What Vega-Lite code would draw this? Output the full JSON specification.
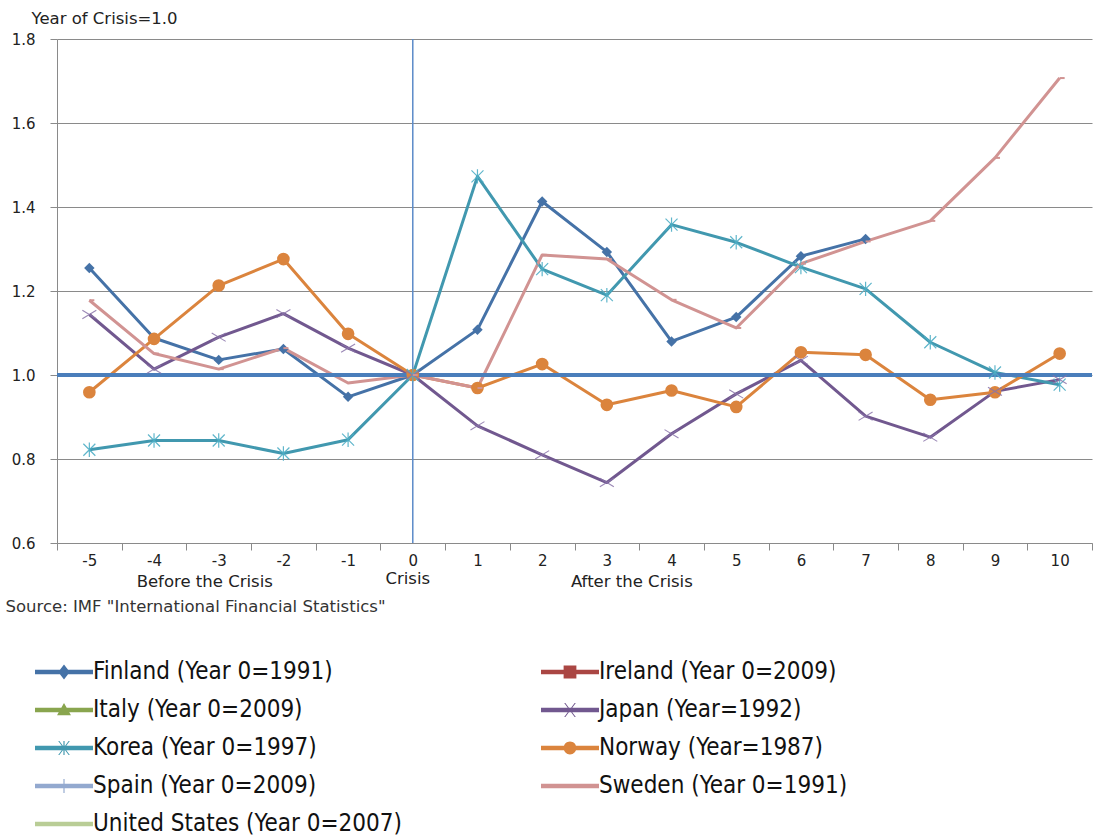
{
  "$schema": "https://vega.github.io/schema/vega-lite/v6.json",
  "width": 1035,
  "height": 504,
  "autosize": {"type": "none"},
  "padding": {"left": 57, "top": 39, "right": 1, "bottom": 295},
  "background": "white",
  "config": {"view": {"stroke": null}, "font": "DejaVu Sans"},
  "datasets": {
    "series": [
      {"c": "Finland (Year 0=1991)", "t": -5, "v": 1.255},
      {"c": "Finland (Year 0=1991)", "t": -4, "v": 1.088},
      {"c": "Finland (Year 0=1991)", "t": -3, "v": 1.036},
      {"c": "Finland (Year 0=1991)", "t": -2, "v": 1.062},
      {"c": "Finland (Year 0=1991)", "t": -1, "v": 0.948},
      {"c": "Finland (Year 0=1991)", "t": 0, "v": 1.0},
      {"c": "Finland (Year 0=1991)", "t": 1, "v": 1.108},
      {"c": "Finland (Year 0=1991)", "t": 2, "v": 1.413},
      {"c": "Finland (Year 0=1991)", "t": 3, "v": 1.293},
      {"c": "Finland (Year 0=1991)", "t": 4, "v": 1.08},
      {"c": "Finland (Year 0=1991)", "t": 5, "v": 1.138},
      {"c": "Finland (Year 0=1991)", "t": 6, "v": 1.283},
      {"c": "Finland (Year 0=1991)", "t": 7, "v": 1.324},
      {"c": "Japan (Year=1992)", "t": -5, "v": 1.144},
      {"c": "Japan (Year=1992)", "t": -4, "v": 1.014},
      {"c": "Japan (Year=1992)", "t": -3, "v": 1.09},
      {"c": "Japan (Year=1992)", "t": -2, "v": 1.146},
      {"c": "Japan (Year=1992)", "t": -1, "v": 1.064},
      {"c": "Japan (Year=1992)", "t": 0, "v": 1.0},
      {"c": "Japan (Year=1992)", "t": 1, "v": 0.879},
      {"c": "Japan (Year=1992)", "t": 2, "v": 0.81},
      {"c": "Japan (Year=1992)", "t": 3, "v": 0.744},
      {"c": "Japan (Year=1992)", "t": 4, "v": 0.86},
      {"c": "Japan (Year=1992)", "t": 5, "v": 0.955},
      {"c": "Japan (Year=1992)", "t": 6, "v": 1.035},
      {"c": "Japan (Year=1992)", "t": 7, "v": 0.902},
      {"c": "Japan (Year=1992)", "t": 8, "v": 0.852},
      {"c": "Japan (Year=1992)", "t": 9, "v": 0.961},
      {"c": "Japan (Year=1992)", "t": 10, "v": 0.989},
      {"c": "Korea (Year 0=1997)", "t": -5, "v": 0.822},
      {"c": "Korea (Year 0=1997)", "t": -4, "v": 0.844},
      {"c": "Korea (Year 0=1997)", "t": -3, "v": 0.844},
      {"c": "Korea (Year 0=1997)", "t": -2, "v": 0.813},
      {"c": "Korea (Year 0=1997)", "t": -1, "v": 0.846},
      {"c": "Korea (Year 0=1997)", "t": 0, "v": 1.0},
      {"c": "Korea (Year 0=1997)", "t": 1, "v": 1.473},
      {"c": "Korea (Year 0=1997)", "t": 2, "v": 1.252},
      {"c": "Korea (Year 0=1997)", "t": 3, "v": 1.19},
      {"c": "Korea (Year 0=1997)", "t": 4, "v": 1.358},
      {"c": "Korea (Year 0=1997)", "t": 5, "v": 1.316},
      {"c": "Korea (Year 0=1997)", "t": 6, "v": 1.257},
      {"c": "Korea (Year 0=1997)", "t": 7, "v": 1.205},
      {"c": "Korea (Year 0=1997)", "t": 8, "v": 1.078},
      {"c": "Korea (Year 0=1997)", "t": 9, "v": 1.006},
      {"c": "Korea (Year 0=1997)", "t": 10, "v": 0.977},
      {"c": "Norway (Year=1987)", "t": -5, "v": 0.959},
      {"c": "Norway (Year=1987)", "t": -4, "v": 1.086},
      {"c": "Norway (Year=1987)", "t": -3, "v": 1.213},
      {"c": "Norway (Year=1987)", "t": -2, "v": 1.276},
      {"c": "Norway (Year=1987)", "t": -1, "v": 1.098},
      {"c": "Norway (Year=1987)", "t": 0, "v": 1.0},
      {"c": "Norway (Year=1987)", "t": 1, "v": 0.969},
      {"c": "Norway (Year=1987)", "t": 2, "v": 1.026},
      {"c": "Norway (Year=1987)", "t": 3, "v": 0.929},
      {"c": "Norway (Year=1987)", "t": 4, "v": 0.963},
      {"c": "Norway (Year=1987)", "t": 5, "v": 0.924},
      {"c": "Norway (Year=1987)", "t": 6, "v": 1.054},
      {"c": "Norway (Year=1987)", "t": 7, "v": 1.048},
      {"c": "Norway (Year=1987)", "t": 8, "v": 0.941},
      {"c": "Norway (Year=1987)", "t": 9, "v": 0.959},
      {"c": "Norway (Year=1987)", "t": 10, "v": 1.051},
      {"c": "Sweden (Year 0=1991)", "t": -5, "v": 1.178},
      {"c": "Sweden (Year 0=1991)", "t": -4, "v": 1.051},
      {"c": "Sweden (Year 0=1991)", "t": -3, "v": 1.014},
      {"c": "Sweden (Year 0=1991)", "t": -2, "v": 1.064},
      {"c": "Sweden (Year 0=1991)", "t": -1, "v": 0.981},
      {"c": "Sweden (Year 0=1991)", "t": 0, "v": 1.0},
      {"c": "Sweden (Year 0=1991)", "t": 1, "v": 0.969},
      {"c": "Sweden (Year 0=1991)", "t": 2, "v": 1.286},
      {"c": "Sweden (Year 0=1991)", "t": 3, "v": 1.276},
      {"c": "Sweden (Year 0=1991)", "t": 4, "v": 1.179},
      {"c": "Sweden (Year 0=1991)", "t": 5, "v": 1.112},
      {"c": "Sweden (Year 0=1991)", "t": 6, "v": 1.265},
      {"c": "Sweden (Year 0=1991)", "t": 7, "v": 1.318},
      {"c": "Sweden (Year 0=1991)", "t": 8, "v": 1.367},
      {"c": "Sweden (Year 0=1991)", "t": 9, "v": 1.517},
      {"c": "Sweden (Year 0=1991)", "t": 10, "v": 1.707}
    ],
    "one": [{}]
  },
  "data": {"name": "series"},
  "layer": [
    {
      "mark": {"type": "line", "strokeWidth": 3, "strokeJoin": "round"},
      "encoding": {
        "x": {
          "field": "t", "type": "ordinal", "bandPosition": 0.5,
          "scale": {"type": "band", "domain": [-5, -4, -3, -2, -1, 0, 1, 2, 3, 4, 5, 6, 7, 8, 9, 10], "paddingInner": 0, "paddingOuter": 0},
          "axis": {
            "tickBand": "extent", "labelAngle": 0, "tickSize": 7, "labelPadding": 3,
            "domainColor": "#8a8a8a", "tickColor": "#8a8a8a", "grid": false,
            "labelFont": "DejaVu Sans", "labelFontSize": 15, "labelColor": "#222",
            "title": "Source: IMF \"International Financial Statistics\"",
            "titleX": -52, "titleY": 63, "titleAlign": "left", "titleBaseline": "middle",
            "titleFont": "DejaVu Sans", "titleFontWeight": "normal", "titleFontSize": 16.5, "titleColor": "#333"
          }
        },
        "y": {
          "field": "v", "type": "quantitative",
          "scale": {"domain": [0.6, 1.8], "zero": false, "nice": false},
          "axis": {
            "values": [0.6, 0.8, 1.0, 1.2, 1.4, 1.6, 1.8], "format": ".1f",
            "grid": true, "gridColor": "#8a8a8a", "gridWidth": 1,
            "domainColor": "#8a8a8a", "tickColor": "#8a8a8a", "tickSize": 7, "labelPadding": 15,
            "labelFont": "DejaVu Sans", "labelFontSize": 15, "labelColor": "#222",
            "title": "Year of Crisis=1.0", "titleAngle": 0, "titleX": -26, "titleY": -21,
            "titleAlign": "left", "titleBaseline": "middle",
            "titleFont": "DejaVu Sans", "titleFontWeight": "normal", "titleFontSize": 16.5, "titleColor": "#222"
          }
        },
        "color": {
          "field": "c", "type": "nominal",
          "scale": {
            "domain": ["Finland (Year 0=1991)", "Ireland (Year 0=2009)", "Italy (Year 0=2009)", "Japan (Year=1992)", "Korea (Year 0=1997)", "Norway (Year=1987)", "Spain (Year 0=2009)", "Sweden (Year 0=1991)", "United States (Year 0=2007)"],
            "range": ["#4572A7", "#AA4643", "#89A54E", "#71588F", "#4198AF", "#DB843D", "#93A9CF", "#D19392", "#B9CD96"]
          },
          "legend": {
            "orient": "none", "direction": "horizontal", "legendX": -5, "legendY": 621, "columns": 2, "columnPadding": 139, "rowPadding": 14,
            "symbolSize": 538, "symbolStrokeWidth": 0, "symbolOpacity": 1, "title": null,
            "labelFont": "DejaVu Sans Condensed, Liberation Sans Narrow, sans-serif", "labelFontSize": 24, "labelColor": "#111",
            "labelOffset": 17, "labelLimit": 0
          }
        }
      }
    },
    {
      "data": {"name": "one"},
      "mark": {"type": "rule", "color": "#4A7EBB", "strokeWidth": 4},
      "encoding": {"y": {"datum": 1.0, "type": "quantitative"}}
    },
    {
      "data": {"name": "one"},
      "mark": {"type": "rule", "color": "#5B8BC9", "strokeWidth": 1.5},
      "encoding": {"x": {"datum": 0, "type": "ordinal", "bandPosition": 0.5}}
    },
    {
      "transform": [{"filter": "datum.c === 'Finland (Year 0=1991)'"}],
      "mark": {"type": "point", "shape": "diamond", "filled": true, "size": 110, "opacity": 1, "color": "#4572A7"},
      "encoding": {
        "x": {"field": "t", "type": "ordinal", "bandPosition": 0.5},
        "y": {"field": "v", "type": "quantitative"}
      }
    },
    {
      "transform": [{"filter": "datum.c === 'Norway (Year=1987)'"}],
      "mark": {"type": "point", "shape": "circle", "filled": true, "size": 160, "opacity": 1, "color": "#DB843D"},
      "encoding": {
        "x": {"field": "t", "type": "ordinal", "bandPosition": 0.5},
        "y": {"field": "v", "type": "quantitative"}
      }
    },
    {
      "transform": [{"filter": "datum.c === 'Korea (Year 0=1997)'"}],
      "mark": {"type": "point", "shape": "M-1,-1L1,1M1,-1L-1,1M0,-1.2L0,1.2", "filled": false, "size": 144, "strokeWidth": 1.2, "opacity": 0.9, "color": "#4FAFC6"},
      "encoding": {
        "x": {"field": "t", "type": "ordinal", "bandPosition": 0.5},
        "y": {"field": "v", "type": "quantitative"}
      }
    },
    {
      "transform": [{"filter": "datum.c === 'Japan (Year=1992)'"}],
      "mark": {"type": "point", "shape": "M-1,-0.6L1,0.6M1,-0.6L-1,0.6", "filled": false, "size": 196, "strokeWidth": 1.1, "opacity": 0.85, "color": "#8A74AA"},
      "encoding": {
        "x": {"field": "t", "type": "ordinal", "bandPosition": 0.5},
        "y": {"field": "v", "type": "quantitative"}
      }
    },
    {
      "transform": [{"filter": "datum.c === 'Sweden (Year 0=1991)'"}],
      "mark": {"type": "point", "shape": "M0,0L1,0", "filled": false, "size": 100, "strokeWidth": 2, "opacity": 1, "color": "#D19392"},
      "encoding": {
        "x": {"field": "t", "type": "ordinal", "bandPosition": 0.5},
        "y": {"field": "v", "type": "quantitative"}
      }
    },
    {
      "transform": [{"filter": "false"}],
      "mark": {"type": "point", "filled": true, "opacity": 1, "size": 538},
      "encoding": {
        "color": {
          "field": "c", "type": "nominal",
          "legend": {
            "orient": "none", "direction": "horizontal", "legendX": -5, "legendY": 621, "columns": 2, "columnPadding": 139, "rowPadding": 14,
            "symbolSize": 538, "symbolStrokeWidth": 0, "symbolOpacity": 1, "title": null,
            "labelFont": "DejaVu Sans Condensed, Liberation Sans Narrow, sans-serif", "labelFontSize": 24, "labelColor": "#111",
            "labelOffset": 17, "labelLimit": 0
          }
        },
        "shape": {
          "field": "c", "type": "nominal",
          "scale": {
            "domain": ["Finland (Year 0=1991)", "Ireland (Year 0=2009)", "Italy (Year 0=2009)", "Japan (Year=1992)", "Korea (Year 0=1997)", "Norway (Year=1987)", "Spain (Year 0=2009)", "Sweden (Year 0=1991)", "United States (Year 0=2007)"],
            "range": [
              "M-2.5,-0.2H2.5V0.2H-2.5ZM0,-0.65L0.5,0L0,0.65L-0.5,0Z",
              "M-2.5,-0.2H2.5V0.2H-2.5ZM-0.55,-0.55H0.55V0.55H-0.55Z",
              "M-2.5,-0.2H2.5V0.2H-2.5ZM0,-0.6L0.6,0.45H-0.6Z",
              "M-2.5,-0.2H2.5V0.2H-2.5ZM-0.5,-0.6L-0.4,-0.6L0.5,0.6L0.4,0.6ZM0.4,-0.6L0.5,-0.6L-0.4,0.6L-0.5,0.6Z",
              "M-2.5,-0.2H2.5V0.2H-2.5ZM-0.5,-0.6L-0.4,-0.6L0.5,0.6L0.4,0.6ZM0.4,-0.6L0.5,-0.6L-0.4,0.6L-0.5,0.6ZM-0.05,-0.6H0.05V0.6H-0.05Z",
              "M-2.5,-0.2H2.5V0.2H-2.5ZM-0.55,0A0.55,0.55 0 1,1 0.55,0A0.55,0.55 0 1,1 -0.55,0Z",
              "M-2.5,-0.2H2.5V0.2H-2.5ZM-0.05,-0.6H0.05V0.6H-0.05Z",
              "M-2.5,-0.2H2.5V0.2H-2.5Z",
              "M-2.5,-0.2H2.5V0.2H-2.5Z"
            ]
          },
          "legend": {
            "orient": "none", "direction": "horizontal", "legendX": -5, "legendY": 621, "columns": 2, "columnPadding": 139, "rowPadding": 14,
            "symbolSize": 538, "symbolStrokeWidth": 0, "symbolOpacity": 1, "title": null,
            "labelFont": "DejaVu Sans Condensed, Liberation Sans Narrow, sans-serif", "labelFontSize": 24, "labelColor": "#111",
            "labelOffset": 17, "labelLimit": 0
          }
        }
      }
    },
    {
      "data": {"name": "one"},
      "mark": {"type": "text", "text": "Before the Crisis", "font": "DejaVu Sans", "fontSize": 16.5, "color": "#222", "align": "center", "baseline": "middle", "dx": -14},
      "encoding": {
        "x": {"datum": -3, "type": "ordinal", "bandPosition": 0.5},
        "y": {"datum": 0.508, "type": "quantitative"}
      }
    },
    {
      "data": {"name": "one"},
      "mark": {"type": "text", "text": "Crisis", "font": "DejaVu Sans", "fontSize": 16.5, "color": "#222", "align": "center", "baseline": "middle", "dx": -5},
      "encoding": {
        "x": {"datum": 0, "type": "ordinal", "bandPosition": 0.5},
        "y": {"datum": 0.514, "type": "quantitative"}
      }
    },
    {
      "data": {"name": "one"},
      "mark": {"type": "text", "text": "After the Crisis", "font": "DejaVu Sans", "fontSize": 16.5, "color": "#222", "align": "center", "baseline": "middle", "dx": 25},
      "encoding": {
        "x": {"datum": 3, "type": "ordinal", "bandPosition": 0.5},
        "y": {"datum": 0.508, "type": "quantitative"}
      }
    }
  ]
}
